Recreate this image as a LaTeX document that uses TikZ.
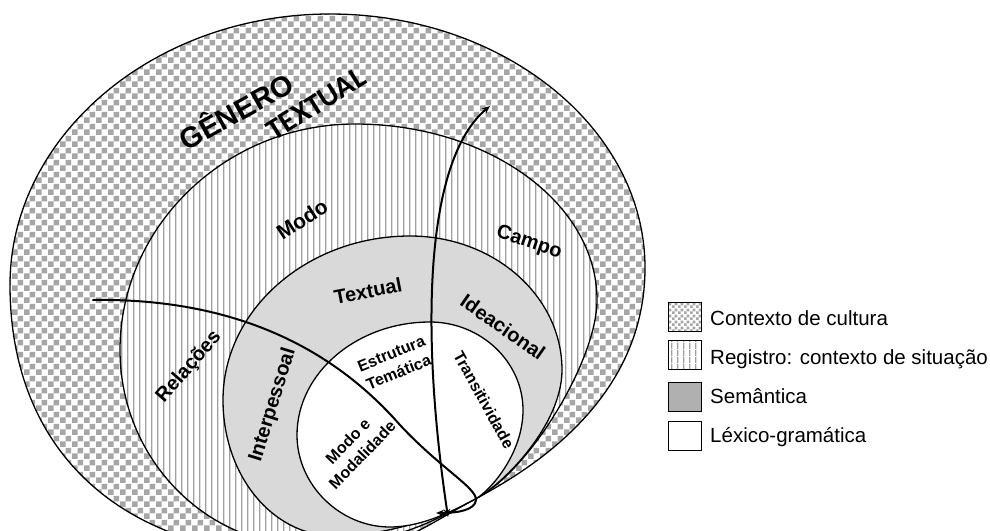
\documentclass[tikz,border=0pt]{standalone}
\usepackage{fontspec}
\setmainfont{Liberation Sans}
\newfontfamily\titlefont{Carlito}
\usetikzlibrary{patterns.meta,arrows.meta}

\definecolor{checkgray}{RGB}{166,166,166}
\definecolor{stripegray}{RGB}{160,160,160}
\definecolor{semfill}{RGB}{217,217,217}
\definecolor{semkey}{RGB}{176,176,176}

% checkerboard of the cultural context band
\tikzdeclarepattern{
  name=checkerbig, type=uncolored,
  bounding box={(0pt,0pt) and (12pt,12pt)},
  tile size={(12pt,12pt)},
  code={\fill (0pt,0pt) rectangle (6pt,6pt); \fill (6pt,6pt) rectangle (12pt,12pt);}
}
% finer checkerboard for the key
\tikzdeclarepattern{
  name=checkersmall, type=uncolored,
  bounding box={(0pt,0pt) and (6pt,6pt)},
  tile size={(6pt,6pt)},
  code={\fill (0pt,0pt) rectangle (3pt,3pt); \fill (3pt,3pt) rectangle (6pt,6pt);}
}
% vertical hatching of the register band
\tikzdeclarepattern{
  name=vstripes, type=uncolored,
  bounding box={(0pt,0pt) and (6.4pt,6.4pt)},
  tile size={(6.4pt,6.4pt)},
  code={\fill (0pt,0pt) rectangle (1.4pt,6.4pt);}
}

\tikzset{
  ring/.style={draw=black, line width=1.3pt},
  lbl/.style={font=\bfseries\fontsize{20}{21}\selectfont, inner sep=0pt},
  lblsmall/.style={font=\bfseries\fontsize{16}{20}\selectfont, align=center, inner sep=0pt},
  keybox/.style={draw=black, line width=1.2pt, minimum width=33pt, minimum height=29pt, inner sep=0pt},
  keytext/.style={font=\fontsize{20.5}{22}\selectfont, anchor=base west, inner sep=0pt},
  flow/.style={line width=2pt, line cap=round, >={Stealth[length=8pt,width=6.5pt]}}
}

\begin{document}
\begin{tikzpicture}[x=1pt,y=-1pt]
\useasboundingbox (0,0) rectangle (990,530);
\clip (0,0) rectangle (990,530);
\fill[white] (0,0) rectangle (990,530);

% Contexto de cultura
\path[ring, pattern=checkerbig, pattern color=checkgray]
  (330,14) .. controls (503,14) and (645,128) .. (645,268)
  .. controls (645,395) and (539,465) .. (477,498)
  .. controls (420,528.6) and (390,556) .. (310,556)
  .. controls (120,556) and (10,450) .. (10,285)
  .. controls (10,136) and (154,14) .. (330,14) -- cycle;

% Registro: contexto de situacao
\path[ring, pattern=vstripes, pattern color=stripegray, preaction={fill=white}]
  (355,124) .. controls (488,124) and (597,203) .. (597,300)
  .. controls (597,360) and (530,470) .. (477,498)
  .. controls (433,521.5) and (390,546) .. (310,546)
  .. controls (205,546) and (120,458) .. (120,350)
  .. controls (120,226) and (226,124) .. (355,124) -- cycle;

% Semantica
\path[ring, fill=semfill]
  (410,236) .. controls (494,236) and (562,296) .. (562,370)
  .. controls (562,425) and (503,484) .. (477,498)
  .. controls (446,514.5) and (390,536) .. (335,536)
  .. controls (272,536) and (223,475) .. (223,400)
  .. controls (223,310) and (307,236) .. (410,236) -- cycle;

% Lexico-gramatica
\path[ring, fill=white]
  (430,322) .. controls (481,322) and (523,362) .. (523,410)
  .. controls (523,455) and (489,491) .. (477,498)
  .. controls (459,507.5) and (425,527) .. (390,527)
  .. controls (340,527) and (297,485) .. (297,435)
  .. controls (297,373) and (357,322) .. (430,322) -- cycle;

% labels of the rings
\node[lbl, font=\bfseries\fontsize{29}{30}\selectfont, rotate=29] (genero) at (235,110) {GÊNERO};
\node[lbl, font=\titlefont\bfseries\fontsize{30}{31}\selectfont, rotate=32] (textualtitle) at (316,104) {TEXTUAL};
\node[lbl, font=\bfseries\fontsize{21}{22}\selectfont, rotate=33] (modo) at (302,219) {Modo};
\node[lbl, rotate=-19] (campo) at (529,243) {Campo};
\node[lbl, rotate=49] (relacoes) at (189,367) {Relações};
\node[lbl, rotate=11] (textual) at (368,291) {Textual};
\node[lbl, rotate=-35] (ideacional) at (503,327) {Ideacional};
\node[lbl, rotate=73] (interpessoal) at (273,405) {Interpessoal};
\node[lblsmall, rotate=22] (estrutura) at (395,363) {Estrutura\\Temática};
\node[lblsmall, rotate=-61] (transitividade) at (484,400) {Transitividade};
\node[lblsmall, rotate=46] (modalidade) at (355,448) {Modo e\\Modalidade};

% the two arrows crossing the rings
\coordinate (vBot) at (448,517);
\coordinate (vTop) at (490,106);
\draw[flow, <->] (vBot) .. controls (420,330) and (425,160) .. (vTop);

\coordinate (dStart) at (93,300);
\coordinate (dEnd) at (436,513);
\draw[flow, ->] (dStart) .. controls (230,298) and (330,345) .. (400,425)
  .. controls (440,468) and (477,488) .. (476,500)
  .. controls (475,510) and (458,513) .. (dEnd);

% key
\node[keybox, pattern=checkersmall, pattern color=checkgray] (k1) at (685,317) {};
\node[keybox, pattern=vstripes, pattern color=stripegray] (k2) at (685,355) {};
\node[keybox, fill=semkey] (k3) at (685,397) {};
\node[keybox, fill=white] (k4) at (685,436) {};
\node[keytext] (t1) at (710,325) {Contexto de cultura};
\node[keytext] (t2) at (710,364) {Registro: contexto de situação};
\node[keytext] (t3) at (710,403) {Semântica};
\node[keytext] (t4) at (710,442) {Léxico-gramática};
\end{tikzpicture}
\end{document}
